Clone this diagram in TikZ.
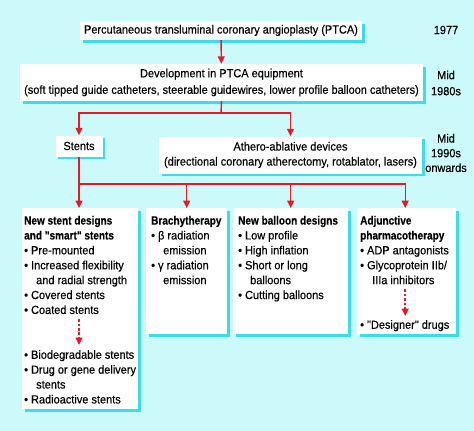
\documentclass[tikz,border=0pt]{standalone}
\usepackage{fontspec}
\newfontfamily\mainf{Liberation Sans}[UprightFeatures={FakeStretch=0.93,FakeBold=0.35},BoldFeatures={FakeStretch=0.85,FakeBold=0.3}]
\usetikzlibrary{arrows.meta,shadows}
\definecolor{bgc}{RGB}{204,250,250}
\definecolor{shc}{RGB}{60,220,232}
\definecolor{lnc}{RGB}{232,24,36}
\begin{document}
\begin{tikzpicture}[x=1pt,y=-1pt,
  box/.style={fill=white,inner sep=0pt,general shadow={fill=shc,shadow xshift=2.8pt,shadow yshift=-2.8pt}},
  tbox/.style={box,align=center,font=\mainf\fontsize{11.8}{#1}\selectfont},
  tbox/.default=16.5,
  txt/.style={inner sep=0pt,align=center,font=\mainf\fontsize{11.8}{15}\selectfont},
  lst/.style={inner sep=0pt,align=left,anchor=north west,font=\mainf\fontsize{11.8}{14.9}\selectfont},
  ln/.style={draw=lnc,line width=1.4pt},
  arr/.style={ln,-{Triangle[length=7.5pt,width=7pt]}},
  dotarr/.style={arr,line width=1.5pt,dash pattern=on 2.6pt off 1.8pt}]
\fill[bgc] (0,0) rectangle (474,431);
\useasboundingbox (0,0) rectangle (474,431);
% top boxes
\node[tbox,minimum width=282pt,minimum height=19pt] (ptca) at (221,30.5)
  {Percutaneous transluminal coronary angioplasty (PTCA)};
\node[txt] (y1977) at (446,30) {1977};
\node[tbox,minimum width=403pt,minimum height=37pt] (dev) at (221.5,82.5)
  {Development in PTCA equipment\\(soft tipped guide catheters, steerable guidewires, lower profile balloon catheters)};
\node[txt,font=\mainf\fontsize{11.8}{16}\selectfont] (y1980) at (446,83) {Mid\\1980s};
\node[tbox,minimum width=47pt,minimum height=21pt] (stents) at (79,146) {Stents};
\node[tbox=15,minimum width=263pt,minimum height=37pt] (athero) at (290.5,155)
  {Athero-ablative devices\\(directional coronary atherectomy, rotablator, lasers)};
\node[txt,font=\mainf\fontsize{11.8}{14.7}\selectfont] (y1990) at (446,153) {Mid\\1990s\\onwards};
% bottom boxes
\node[box,minimum width=116pt,minimum height=201pt,anchor=north west] (bA) at (22,208) {};
\node[box,minimum width=81pt,minimum height=126pt,anchor=north west] (bB) at (146,208) {};
\node[box,minimum width=115pt,minimum height=126pt,anchor=north west] (bC) at (233,208) {};
\node[box,minimum width=99pt,minimum height=126pt,anchor=north west] (bD) at (357,208) {};
\node[lst] (a1) at (24,215.8) {\textbf{New stent designs}\\
\textbf{and "smart" stents}\\
\textbullet\ Pre-mounted\\
\textbullet\ Increased flexibility\\
\hspace*{12pt}and radial strength\\
\textbullet\ Covered stents\\
\textbullet\ Coated stents};
\node[lst] (a2) at (24,350) {\textbullet\ Biodegradable stents\\
\textbullet\ Drug or gene delivery\\
\hspace*{12pt}stents\\
\textbullet\ Radioactive stents};
\node[lst] (b1) at (151,215.8) {\textbf{Brachytherapy}\\
\textbullet\ β radiation\\
\hspace*{12pt}emission\\
\textbullet\ γ radiation\\
\hspace*{12pt}emission};
\node[lst] (c1) at (238,215.8) {\textbf{New balloon designs}\\
\textbullet\ Low profile\\
\textbullet\ High inflation\\
\textbullet\ Short or long\\
\hspace*{12pt}balloons\\
\textbullet\ Cutting balloons};
\node[lst] (d1) at (360,215.8) {\textbf{Adjunctive}\\
\textbf{pharmacotherapy}\\
\textbullet\ ADP antagonists\\
\textbullet\ Glycoprotein IIb/\\
\hspace*{12pt}IIIa inhibitors};
\node[lst] (d2) at (360,320) {\textbullet\ "Designer" drugs};
% connectors
\draw[arr] (ptca) -- (dev);
\coordinate (j1) at (221,113);
\coordinate (j2) at (79,184);
\draw[ln] (dev.south) -- (j1);
\draw[arr] (j1) -| (stents.north);
\draw[arr] (j1) -| (athero.north);
\draw[ln] (stents.south) -- (j2);
\draw[arr] (j2) -- (j2 |- bA.north);
\draw[arr] (j2) -| (bB.north);
\draw[arr] (j2) -| (bC.north);
\draw[arr] (j2) -| ([xshift=-1.5pt]bD.north);
\draw[dotarr,shorten <=5pt,shorten >=5pt] (a1.south -| j2) -- (a2.north -| j2);
\draw[dotarr,shorten <=5pt,shorten >=4pt] ([xshift=-1.5pt]bD.north |- d1.south) -- ([xshift=-1.5pt]bD.north |- d2.north);
\end{tikzpicture}
\end{document}
